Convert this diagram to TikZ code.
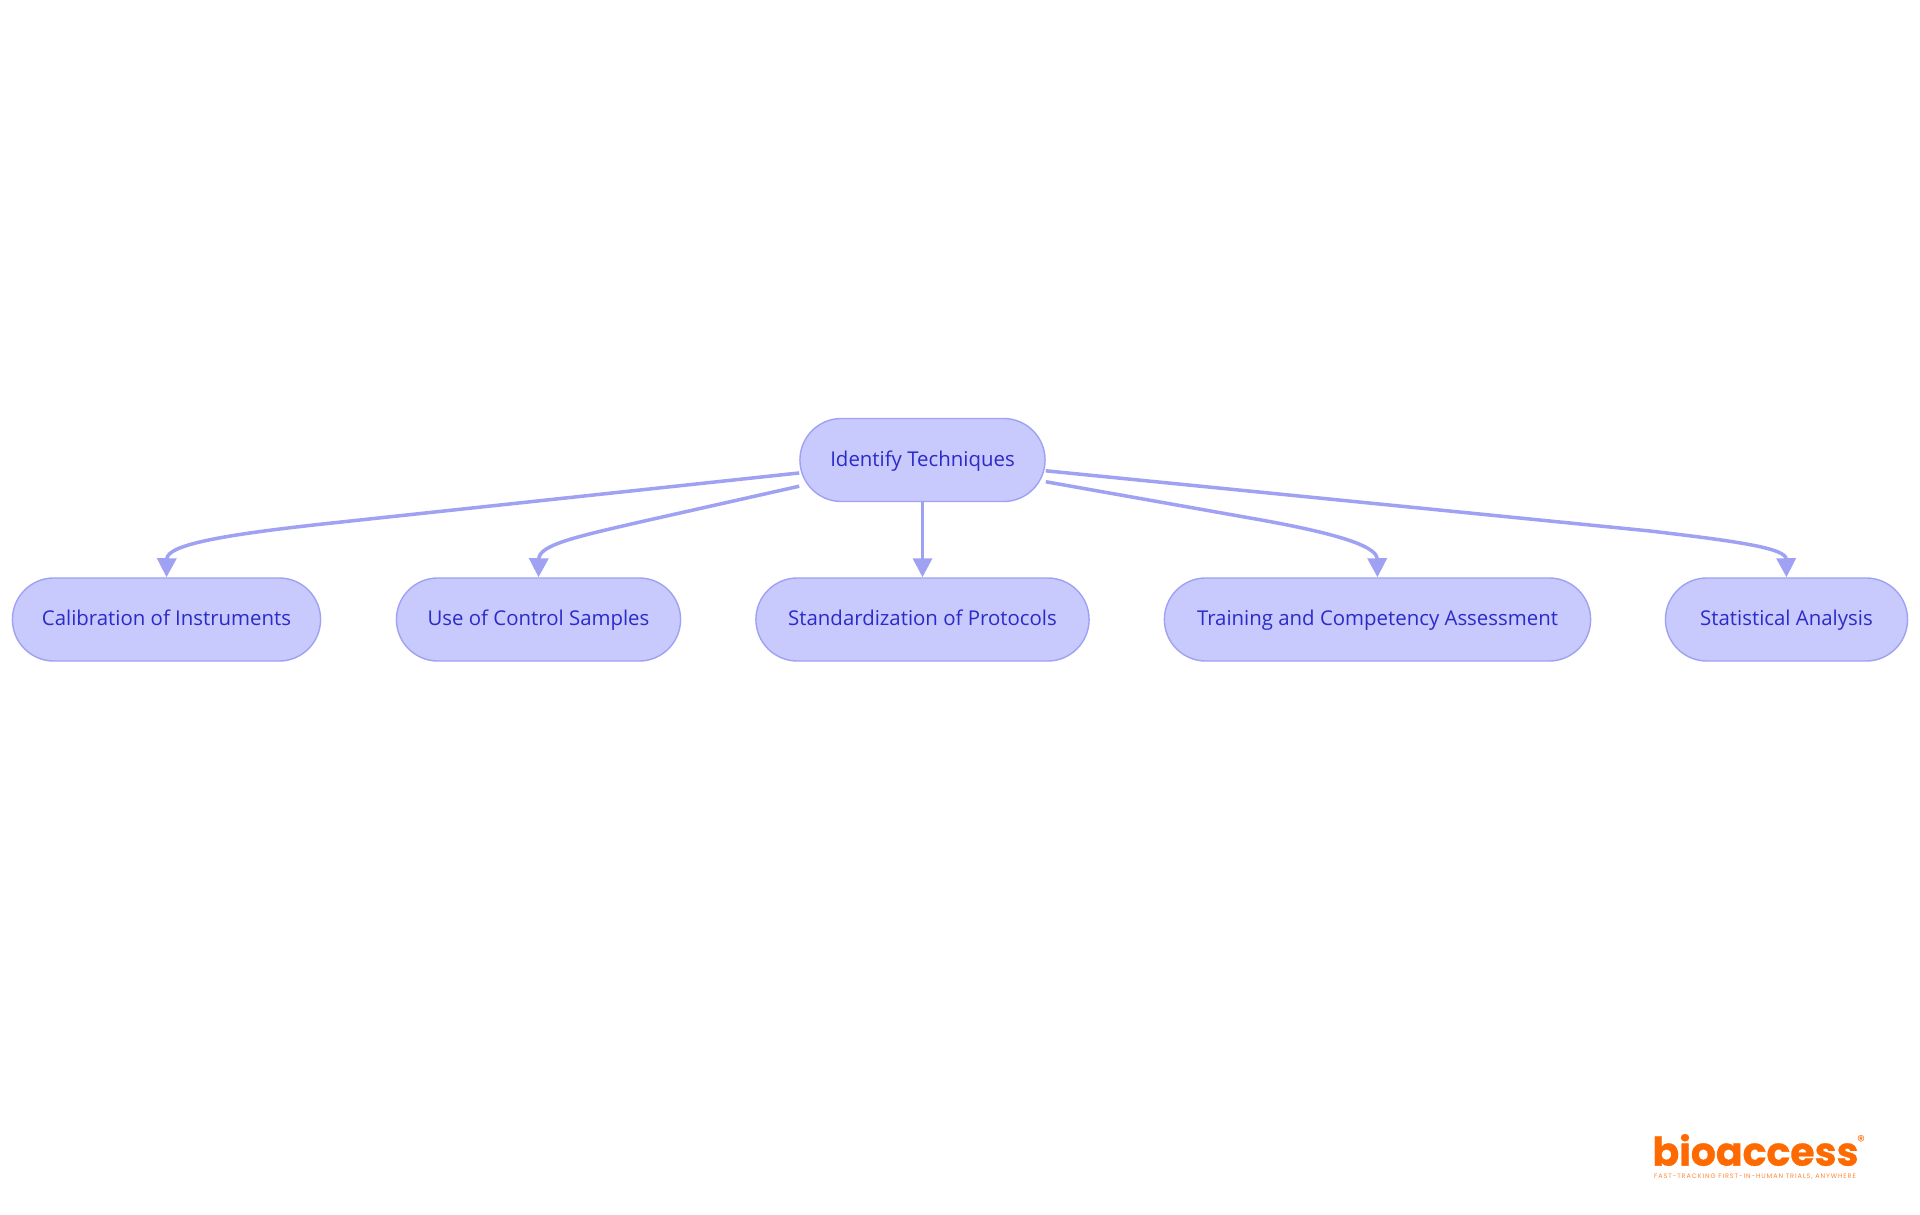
\documentclass[tikz,border=0pt]{standalone}
\usepackage{fontspec}
\setmainfont{Open Sans}
\newfontfamily\logofont[BoldFeatures={FakeBold=0.8}]{Poppins}
\newfontfamily\tagfont[LetterSpace=14]{Poppins}
\usetikzlibrary{arrows.meta}
\definecolor{pillFill}{HTML}{C8C9FD}
\definecolor{pillLine}{HTML}{9FA2F2}
\definecolor{pillText}{HTML}{2B2BC8}
\definecolor{logoOrange}{HTML}{FF6A00}
\begin{document}
\begin{tikzpicture}
[x=0.01cm,y=-0.01cm,%
  pillArrow/.style={-{Triangle[length=0.19cm,width=0.19cm]},line width=1pt,color=pillLine},%
  pillDecorate/.style={shape=rectangle,rounded corners=0.415cm,inner sep=0pt,draw=pillLine,
    fill=pillFill,line width=0.4pt,minimum height=0.83cm,text=pillText,
    text height=0.17cm,text depth=0.05cm,font=\fontsize{5.8}{8}\selectfont}]
\useasboundingbox (0,0) rectangle (1920,1215);
%% nodes or vertices
\foreach \nodename/\x/\y/\wide/\caption in {root/922.5/460/2.45/Identify Techniques,
  calib/166.5/619.5/3.08/Calibration of Instruments, control/538.5/619.5/2.84/Use of Control Samples,
  protocol/922.5/619.5/3.33/Standardization of Protocols, training/1377.5/619.5/4.26/Training and Competency Assessment,
  stats/1786.5/619.5/2.42/Statistical Analysis}
{
  \node (\nodename) at (\x,\y) [pillDecorate,minimum width=\wide cm] {\caption};
}
%% straight edge
\draw[pillArrow] (root) -- (protocol);
%% edges with a long straight run and a short bend
\foreach \startangle/\endnode/\kx/\ky/\ax/\ay/\bx/\by in {
  186/calib/332/523/220/535/167/545, 192/control/640/522/575/537/539/545,
  -10/training/1250/518/1330/532/1377/545, -5.6/stats/1650/531/1735/541/1786/548}
{
  \draw[pillArrow] (root.\startangle) -- (\kx,\ky) .. controls (\ax,\ay) and (\bx,\by) .. (\endnode.north);
}
%% logo
\node (logo) at (1755.5,1150) [inner sep=0pt,text=logoOrange,font=\logofont\bfseries\fontsize{11.2}{14}\selectfont] {bioaccess};
\node (logomark) at (1861,1141) [inner sep=0pt,text=logoOrange,font=\logofont\fontsize{4.4}{5}\selectfont] {®};
\node (tagline) at (1755,1177) [inner sep=0pt,text=logoOrange!80,font=\tagfont\fontsize{1.85}{2}\selectfont] {FAST-TRACKING FIRST-IN-HUMAN TRIALS, ANYWHERE};
\end{tikzpicture}
\end{document}
